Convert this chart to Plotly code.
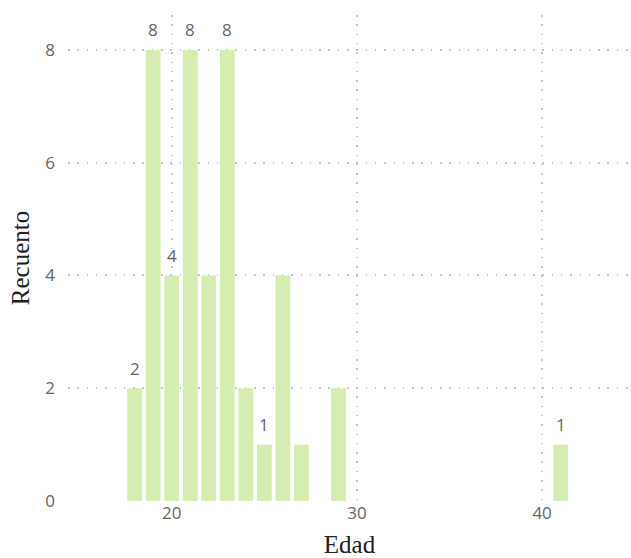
import plotly.graph_objects as go

edad = [18, 19, 20, 21, 22, 23, 24, 25, 26, 27, 29, 41]
recuento = [2, 8, 4, 8, 4, 8, 2, 1, 4, 1, 2, 1]
etiquetas = ["2", "8", "4", "8", "", "8", "", "1", "", "", "", "1"]

fig = go.Figure(go.Bar(
    x=edad, y=recuento,
    marker=dict(color="#d6edb1", line=dict(width=0)),
    cliponaxis=False, width=0.8, hoverinfo="x+y",
))

for xv, yv, t in zip(edad, recuento, etiquetas):
    if t:
        fig.add_annotation(
            x=xv, y=yv, text=t, showarrow=False, yanchor="middle", yshift=20,
            font=dict(family="Open Sans", size=17, color="#666666"),
        )

grid = dict(showgrid=True, automargin=False, gridcolor="#c6c6c6",
            griddash="1.5px,7.8px", gridwidth=1.5, zeroline=False, showline=False)

fig.update_layout(
    width=631, height=558,
    margin=dict(l=68, r=0, t=15, b=57),
    plot_bgcolor="white", paper_bgcolor="white",
    showlegend=False,
    font=dict(family="Open Sans", color="#666666"),
    xaxis=dict(
        range=[14.4, 44.8], tickvals=[20, 30, 40], **grid,
        tickfont=dict(size=17, color="#666666"),
        title=dict(text="Edad", font=dict(family="Liberation Serif", size=25, color="#222222"), standoff=12),
    ),
    yaxis=dict(
        range=[0, 8.62], tickvals=[0, 2, 4, 6, 8], **grid,
        tickfont=dict(size=17, color="#666666"), ticklabelstandoff=12,
        title=dict(text="Recuento", font=dict(family="Liberation Serif", size=25, color="#222222"), standoff=8),
    ),
)

fig.write_html("out.html", config={"displayModeBar": False},
               post_script="document.body.style.margin='0';")
